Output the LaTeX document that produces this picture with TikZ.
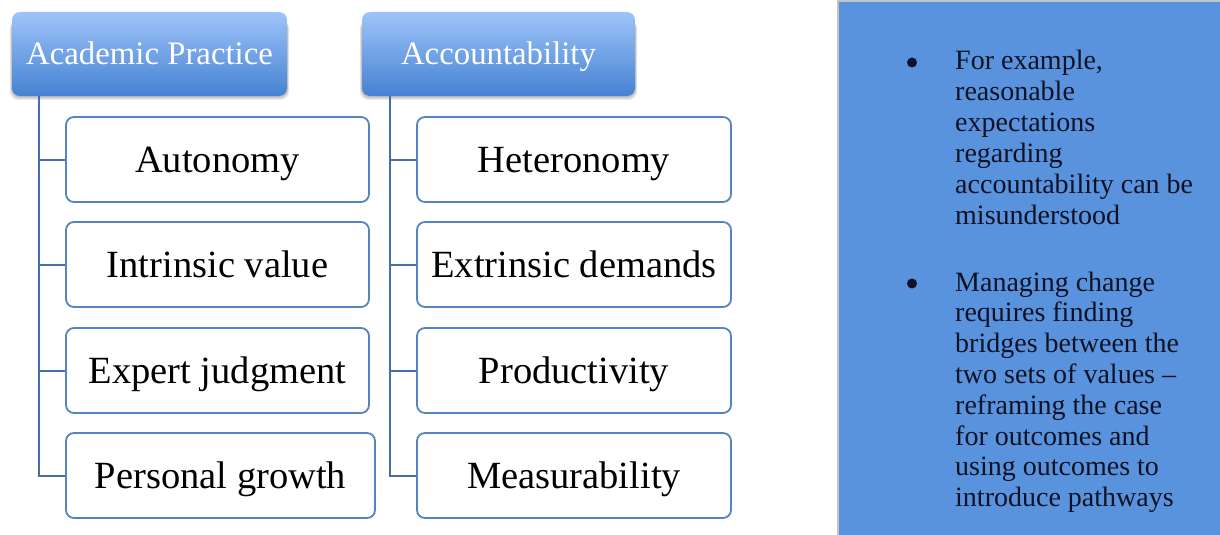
\documentclass[tikz,border=0pt]{standalone}
\usepackage{fontspec}
\setmainfont{Liberation Serif}
\usetikzlibrary{backgrounds}

\definecolor{hdrTop}{RGB}{158,196,248}
\definecolor{hdrBot}{RGB}{70,130,210}
\definecolor{boxLine}{RGB}{84,132,196}
\definecolor{connLine}{RGB}{72,110,168}
\definecolor{panelFill}{RGB}{90,147,221}
\definecolor{panelEdge}{RGB}{195,195,195}
\definecolor{panelText}{RGB}{14,18,36}

\begin{document}
\begin{tikzpicture}[x=1pt,y=-1pt,
  hdrbox/.style={rounded corners=8pt, top color=hdrTop, bottom color=hdrBot,
    draw=none, text=white, font=\fontsize{32.8}{36}\selectfont,
    inner sep=0pt, minimum height=84pt, text height=21.7pt, text depth=0pt},
  itembox/.style={rounded corners=8pt, draw=boxLine, line width=1.8pt, fill=white,
    font=\fontsize{38.5}{42}\selectfont, inner sep=0pt, minimum height=85pt,
    text height=25.5pt, text depth=0pt},
  conn/.style={draw=connLine, line width=2pt},
  bullettext/.style={anchor=base west, inner sep=0pt, text=panelText,
    font=\fontsize{28}{30.8}\selectfont},
  bulletdot/.style={circle, fill=panelText, inner sep=0pt, minimum size=10pt},
  hshadow/.style={fill=black, fill opacity=0.07}]

\useasboundingbox (0,0) rectangle (1220,535);

% side panel
\fill[panelFill] (838,1) rectangle (1222,537);
\draw[panelEdge, line width=1.2pt] (838,537) -- (838,1) -- (1222,1);

% column headers
\node[hdrbox, minimum width=275pt] (ap) at (149.5,54) {Academic Practice};
\node[hdrbox, minimum width=273pt] (acc) at (498.5,54) {Accountability};

% header shadows
\begin{scope}[on background layer]
  \foreach \s in {1,2,3,4}{
    \fill[hshadow, rounded corners=9pt]
      ([xshift=-0.5*\s pt, yshift=-\s pt]ap.south west) rectangle
      ([xshift=0.5*\s pt, yshift=-8pt]ap.north east);
    \fill[hshadow, rounded corners=9pt]
      ([xshift=-0.5*\s pt, yshift=-\s pt]acc.south west) rectangle
      ([xshift=0.5*\s pt, yshift=-8pt]acc.north east);
  }
\end{scope}

% academic practice items
\node[itembox, minimum width=303pt] (au) at (217.5,159.5) {Autonomy};
\node[itembox, minimum width=303pt] (iv) at (217.5,264.5) {Intrinsic value};
\node[itembox, minimum width=303pt] (ej) at (217.5,370.5) {Expert judgment};
\node[itembox, minimum width=309pt] (pg) at (220.5,475.5) {Personal growth};

% accountability items
\node[itembox, minimum width=314pt] (he) at (574,159.5) {Heteronomy};
\node[itembox, minimum width=314pt] (ed) at (574,264.5) {Extrinsic demands};
\node[itembox, minimum width=314pt] (pr) at (574,370.5) {Productivity};
\node[itembox, minimum width=314pt] (me) at (574,475.5) {Measurability};

% tree connectors
\coordinate (apTrunk) at ([xshift=27pt]ap.south west);
\coordinate (accTrunk) at ([xshift=28pt]acc.south west);
\draw[conn] (apTrunk) |- (pg.west);
\draw[conn] (apTrunk |- au.west) -- (au.west);
\draw[conn] (apTrunk |- iv.west) -- (iv.west);
\draw[conn] (apTrunk |- ej.west) -- (ej.west);
\draw[conn] (accTrunk) |- (me.west);
\draw[conn] (accTrunk |- he.west) -- (he.west);
\draw[conn] (accTrunk |- ed.west) -- (ed.west);
\draw[conn] (accTrunk |- pr.west) -- (pr.west);

% bullet points
\node[bulletdot] (d1) at (912,62.5) {};
\node[bullettext] (t1) at (955,70) {\parbox[t]{262pt}{\raggedright
  For example,\\
  reasonable\\
  expectations\\
  regarding\\
  accountability can be\\
  misunderstood}};
\node[bulletdot] (d2) at (912,283.5) {};
\node[bullettext] (t2) at (955,291) {\parbox[t]{262pt}{\raggedright
  Managing change\\
  requires finding\\
  bridges between the\\
  two sets of values –\\
  reframing the case\\
  for outcomes and\\
  using outcomes to\\
  introduce pathways}};
\end{tikzpicture}
\end{document}
